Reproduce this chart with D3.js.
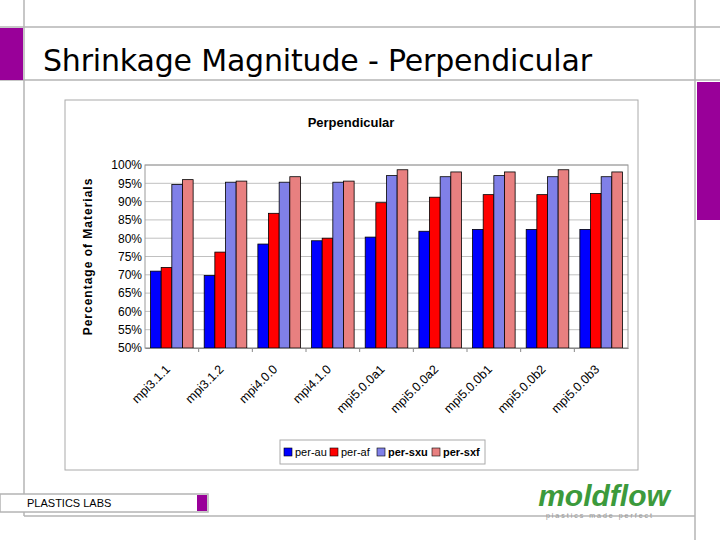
<!DOCTYPE html>
<meta charset="utf-8">
<style>
html, body { margin: 0; background: #fff; }
text { font-family: "Liberation Sans", Arial, sans-serif; }
</style>
<svg width="720" height="540"></svg>
<script src="https://d3js.org/d3.v7.min.js"></script>
<script>
var categories = ['mpi3.1.1', 'mpi3.1.2', 'mpi4.0.0', 'mpi4.1.0', 'mpi5.0.0a1', 'mpi5.0.0a2', 'mpi5.0.0b1', 'mpi5.0.0b2', 'mpi5.0.0b3'];
var seriesNames = ['per-au', 'per-af', 'per-sxu', 'per-sxf'];
var perAu  = [71.0, 69.8, 78.4, 79.3, 80.3, 81.9, 82.4, 82.4, 82.4];
var perAf  = [72.0, 76.2, 86.8, 80.0, 89.7, 91.2, 91.9, 91.9, 92.2];
var perSxu = [94.7, 95.3, 95.3, 95.3, 97.1, 96.8, 97.1, 96.8, 96.8];
var perSxf = [96.0, 95.6, 96.8, 95.6, 98.7, 98.1, 98.1, 98.7, 98.1];
var yTicks = [50, 55, 60, 65, 70, 75, 80, 85, 90, 95, 100];
var colors = ['#0000ff', '#ff0000', '#8080e8', '#e88080'];

var series = [perAu, perAf, perSxu, perSxf];
var svg = d3.select('svg');

// slide frame
var grey = '#b4b4b4';
svg.append('line').attr('x1', 0).attr('x2', 720).attr('y1', 27).attr('y2', 27).attr('stroke', grey).attr('stroke-width', 1.5);
svg.append('line').attr('x1', 0).attr('x2', 720).attr('y1', 80).attr('y2', 80).attr('stroke', grey).attr('stroke-width', 1.5);
svg.append('line').attr('x1', 24).attr('x2', 24).attr('y1', 0).attr('y2', 516).attr('stroke', grey).attr('stroke-width', 1.5);
svg.append('line').attr('x1', 695).attr('x2', 695).attr('y1', 0).attr('y2', 540).attr('stroke', grey).attr('stroke-width', 1.5);
svg.append('line').attr('x1', 24).attr('x2', 695).attr('y1', 516).attr('y2', 516).attr('stroke', grey).attr('stroke-width', 1.5);
svg.append('rect').attr('x', 0).attr('y', 28).attr('width', 23).attr('height', 52).attr('fill', '#990099');
svg.append('rect').attr('x', 697).attr('y', 82).attr('width', 23).attr('height', 138).attr('fill', '#990099');
svg.append('text').attr('x', 43).attr('y', 71).attr('font-size', 30)
  .style('font-family', '"DejaVu Sans", sans-serif').attr('textLength', 549)
  .text('Shrinkage Magnitude - Perpendicular');

// footer
svg.append('rect').attr('x', 0).attr('y', 494).attr('width', 208).attr('height', 18).attr('fill', '#fff').attr('stroke', grey).attr('stroke-width', 1.5);
svg.append('rect').attr('x', 197).attr('y', 495).attr('width', 10).attr('height', 16).attr('fill', '#990099');
svg.append('text').attr('x', 27).attr('y', 507).attr('font-size', 11).text('PLASTICS LABS');
svg.append('text').attr('x', 604).attr('y', 506).attr('text-anchor', 'middle').attr('font-size', 30)
  .attr('font-weight', 'bold').attr('font-style', 'italic').attr('fill', '#3c9a3c').text('moldflow');
svg.append('text').attr('x', 600).attr('y', 518).attr('text-anchor', 'middle').attr('font-size', 7)
  .attr('fill', '#999').attr('letter-spacing', 2).text('plastics made perfect');

// chart box
svg.append('rect').attr('x', 65).attr('y', 100).attr('width', 573).attr('height', 370).attr('fill', '#fff').attr('stroke', '#aaa');
svg.append('text').attr('x', 351).attr('y', 127).attr('text-anchor', 'middle').attr('font-size', 13).attr('font-weight', 'bold').text('Perpendicular');

var pLeft = 145, pRight = 628, pTop = 165, pBottom = 348;
var x = d3.scaleBand().domain(categories).range([pLeft, pRight]);
var x1 = d3.scaleBand().domain(d3.range(4)).range([0, x.bandwidth()]).paddingOuter(0.52).paddingInner(0);
var y = d3.scaleLinear().domain([50, 100]).range([pBottom, pTop]);

var g = svg.append('g');
g.selectAll('.grid').data(yTicks).enter().append('line')
  .attr('x1', pLeft).attr('x2', pRight).attr('y1', function (d) { return y(d); }).attr('y2', function (d) { return y(d); })
  .attr('stroke', '#c0c0c0');
g.append('rect').attr('x', pLeft).attr('y', pTop).attr('width', pRight - pLeft).attr('height', pBottom - pTop)
  .attr('fill', 'none').attr('stroke', '#999');

categories.forEach(function (c, i) {
  series.forEach(function (s, k) {
    g.append('rect')
      .attr('x', x(c) + x1(k)).attr('width', x1.bandwidth())
      .attr('y', y(s[i])).attr('height', y(50) - y(s[i]))
      .attr('fill', colors[k]).attr('stroke', '#000').attr('stroke-width', 0.8);
  });
});

g.append('g').attr('transform', 'translate(0,' + pBottom + ')')
  .call(d3.axisBottom(x).tickSize(0).tickFormat(''))
  .call(function (a) { a.select('.domain').attr('stroke', '#888'); });
g.selectAll('.xt').data(categories.slice(1)).enter().append('line')
  .attr('x1', function (d) { return x(d); }).attr('x2', function (d) { return x(d); })
  .attr('y1', pBottom).attr('y2', pBottom + 4).attr('stroke', '#888');

g.selectAll('.xl').data(categories).enter().append('text')
  .attr('transform', function (d) { return 'translate(' + (x(d) + x.bandwidth() / 2 - 1) + ',' + (pBottom + 22) + ') rotate(-45)'; })
  .attr('text-anchor', 'end').attr('font-size', 12.5).text(function (d) { return d; });

var ya = g.append('g').attr('transform', 'translate(' + pLeft + ',0)')
  .call(d3.axisLeft(y).tickValues(yTicks).tickSize(0).tickPadding(3).tickFormat(function (d) { return d + '%'; }));
ya.select('.domain').remove();
ya.selectAll('text').attr('font-size', 12).style('font-family', '"Liberation Sans Narrow", "Liberation Sans", sans-serif');

svg.append('text').attr('transform', 'translate(92,' + ((pTop + pBottom) / 2) + ') rotate(-90)')
  .attr('text-anchor', 'middle').attr('font-size', 12).attr('font-weight', 'bold').attr('letter-spacing', 1)
  .text('Percentage of Materials');

// legend
var lg = svg.append('g').attr('transform', 'translate(280,440)');
lg.append('rect').attr('width', 205).attr('height', 24).attr('fill', '#fff').attr('stroke', '#aaa');
var lx = [4, 50, 97, 152];
seriesNames.forEach(function (n, k) {
  lg.append('rect').attr('x', lx[k]).attr('y', 8).attr('width', 8).attr('height', 8).attr('fill', colors[k]).attr('stroke', '#000').attr('stroke-width', 0.6);
  lg.append('text').attr('x', lx[k] + 11).attr('y', 16).attr('font-size', 11)
    .attr('font-weight', k >= 2 ? 'bold' : 'normal').text(n);
});
</script>
